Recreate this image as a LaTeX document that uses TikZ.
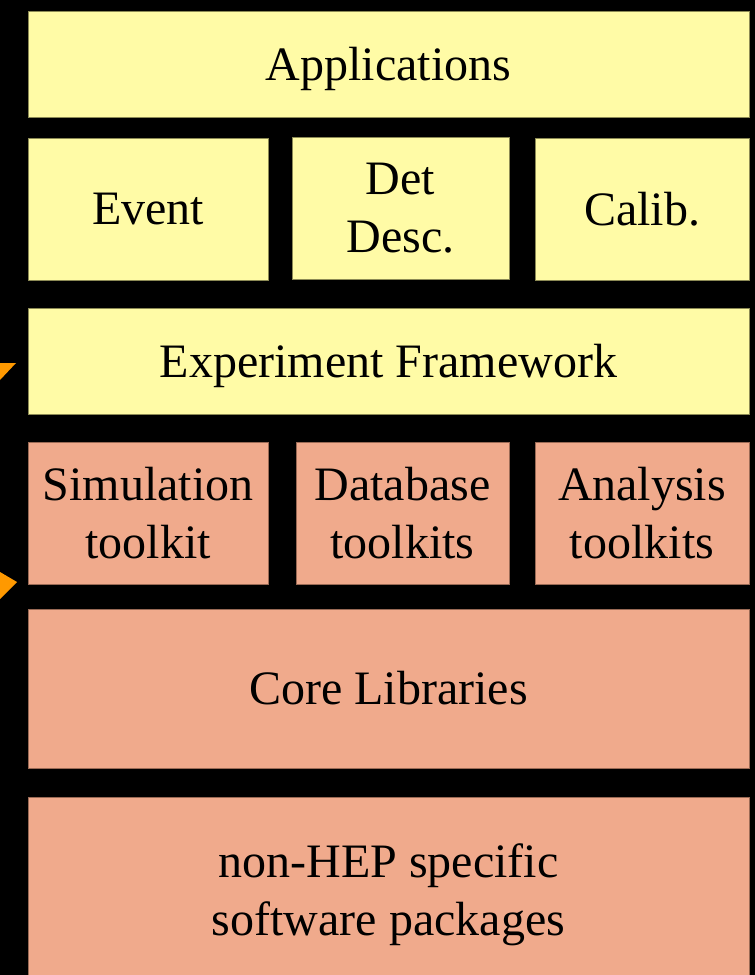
\documentclass[tikz,border=0pt]{standalone}
\usepackage{fontspec}
\setmainfont{Liberation Serif}
\definecolor{ylw}{HTML}{FFFBA6}
\definecolor{ylwb}{HTML}{8C8A55}
\definecolor{sal}{HTML}{F0AA8C}
\definecolor{salb}{HTML}{9A6A55}
\definecolor{arr}{HTML}{FF9900}
\tikzset{
  lay/.style={rectangle, inner sep=0pt, line width=1pt, align=center,
    font=\fontsize{48}{58}\selectfont, text=black},
  ybox/.style={lay, fill=ylw, draw=ylwb},
  sbox/.style={lay, fill=sal, draw=salb},
  nodepth/.style={text depth=0pt},
}
\begin{document}
\begin{tikzpicture}[x=1pt,y=-1pt]
\useasboundingbox (0,0) rectangle (755,975);
\clip (0,0) rectangle (755,975);
\fill[black] (0,0) rectangle (755,975);
\node[ybox, nodepth, minimum width=721pt, minimum height=106pt] (app) at (388.5,64) {Applications};
\node[ybox, minimum width=240pt, minimum height=142pt] (event) at (148,209) {Event};
\node[ybox, minimum width=217pt, minimum height=142pt] (det) at (400.5,208) {Det\\Desc.};
\node[ybox, minimum width=214pt, minimum height=142pt] (calib) at (642,209) {Calib.};
\node[ybox, nodepth, minimum width=721pt, minimum height=106pt] (exp) at (388.5,361) {Experiment Framework};
\node[sbox, minimum width=240pt, minimum height=142pt] (sim) at (148,513) {Simulation\\toolkit};
\node[sbox, minimum width=213pt, minimum height=142pt] (db) at (402.5,513) {Database\\toolkits};
\node[sbox, minimum width=214pt, minimum height=142pt] (ana) at (642,513) {Analysis\\toolkits};
\node[sbox, minimum width=721pt, minimum height=159pt] (core) at (388.5,688.5) {Core Libraries};
\node[sbox, minimum width=721pt, minimum height=196pt] (nonhep) at (388.5,895) {non-HEP specific\\software packages};
\fill[arr] (0,363) -- (16,363) -- (0,380) -- cycle;
\fill[arr] (0,572) -- (17,582) -- (0,599) -- cycle;
\end{tikzpicture}
\end{document}
